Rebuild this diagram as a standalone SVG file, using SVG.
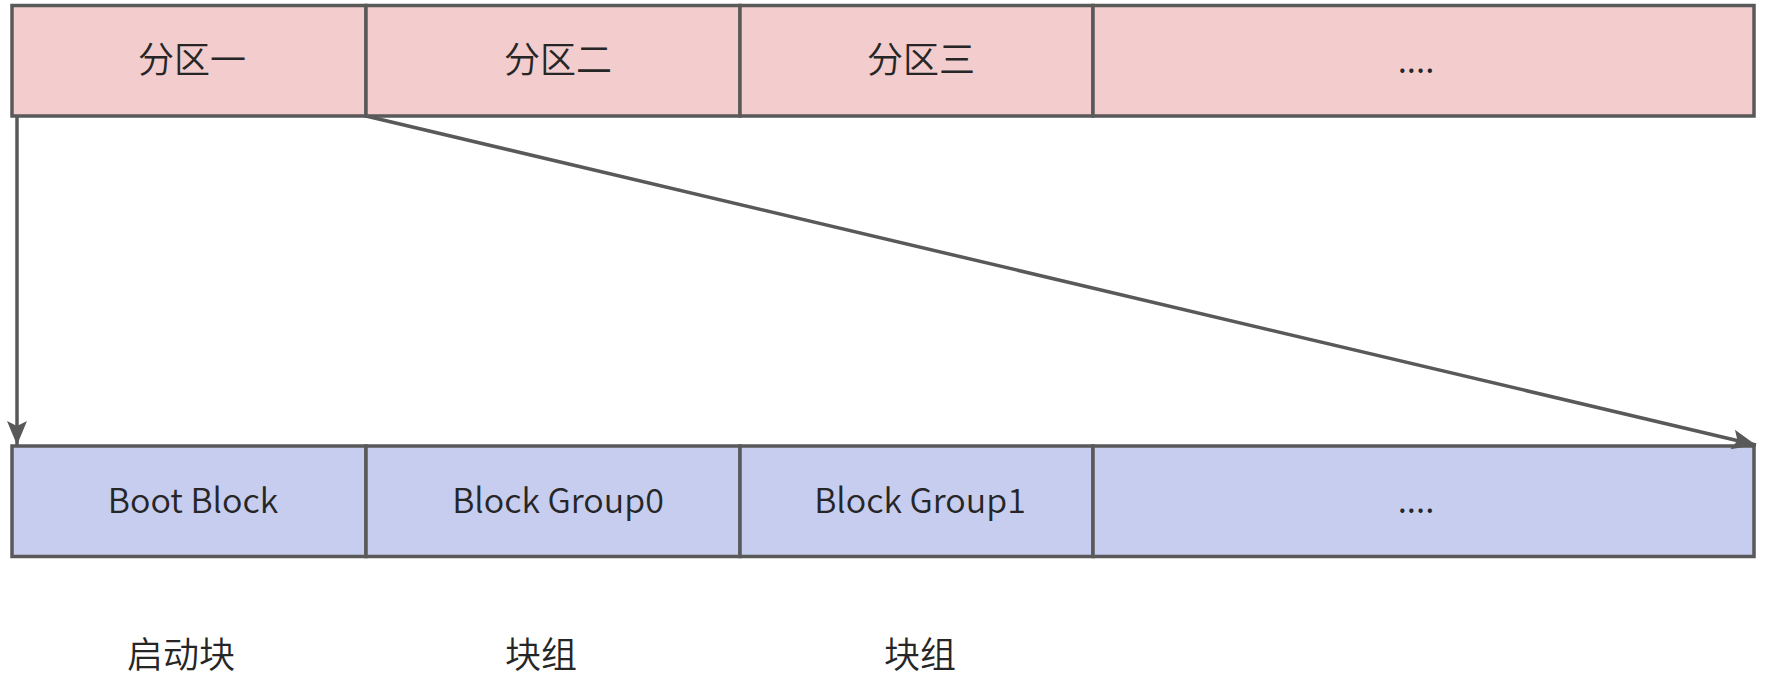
<svg xmlns="http://www.w3.org/2000/svg" width="1772" height="696" viewBox="0 0 1772 696">
<style>
.top{fill:#f3cccd;stroke:#595959;stroke-width:3.5}
.bot{fill:#c6cdef;stroke:#595959;stroke-width:3.5}
.t{font-family:"Noto Sans CJK SC","Noto Sans",sans-serif;font-size:36px;font-weight:350;fill:#262626;text-anchor:middle}
.e{font-size:34px}
.c{fill:none;stroke:#595959;stroke-width:3.5}
</style>
<defs>
<marker id="ah" markerUnits="userSpaceOnUse" markerWidth="26" markerHeight="22" refX="24" refY="10" orient="auto" viewBox="0 0 26 20">
<path d="M0,0 L24,10 L0,20 L5,10 z" fill="#595959"/>
</marker>
</defs>
<rect width="1772" height="696" fill="#ffffff"/>
<g id="p1"><rect class="top" x="12" y="5.5" width="354" height="110.5"/><text class="t" x="192" y="73">分区一</text></g>
<g id="p2"><rect class="top" x="366" y="5.5" width="374" height="110.5"/><text class="t" x="558" y="73">分区二</text></g>
<g id="p3"><rect class="top" x="740" y="5.5" width="353" height="110.5"/><text class="t" x="921" y="73">分区三</text></g>
<g id="p4"><rect class="top" x="1093" y="5.5" width="661" height="110.5"/><text class="t e" x="1416" y="73">....</text></g>
<g id="b1"><rect class="bot" x="12" y="446" width="354" height="110.5"/><text class="t e" x="193" y="513">Boot Block</text></g>
<g id="b2"><rect class="bot" x="366" y="446" width="374" height="110.5"/><text class="t e" x="558" y="513">Block Group0</text></g>
<g id="b3"><rect class="bot" x="740" y="446" width="353" height="110.5"/><text class="t e" x="920" y="513">Block Group1</text></g>
<g id="b4"><rect class="bot" x="1093" y="446" width="661" height="110.5"/><text class="t e" x="1416" y="513">....</text></g>
<g id="l1"><text class="t" x="181" y="668">启动块</text></g>
<g id="l2"><text class="t" x="541" y="668">块组</text></g>
<g id="l3"><text class="t" x="920" y="668">块组</text></g>
<g id="connectors">
<line class="c" x1="17" y1="116" x2="17" y2="445" marker-end="url(#ah)"/>
<line class="c" x1="366" y1="116" x2="1756" y2="445" marker-end="url(#ah)"/>
</g>
</svg>
